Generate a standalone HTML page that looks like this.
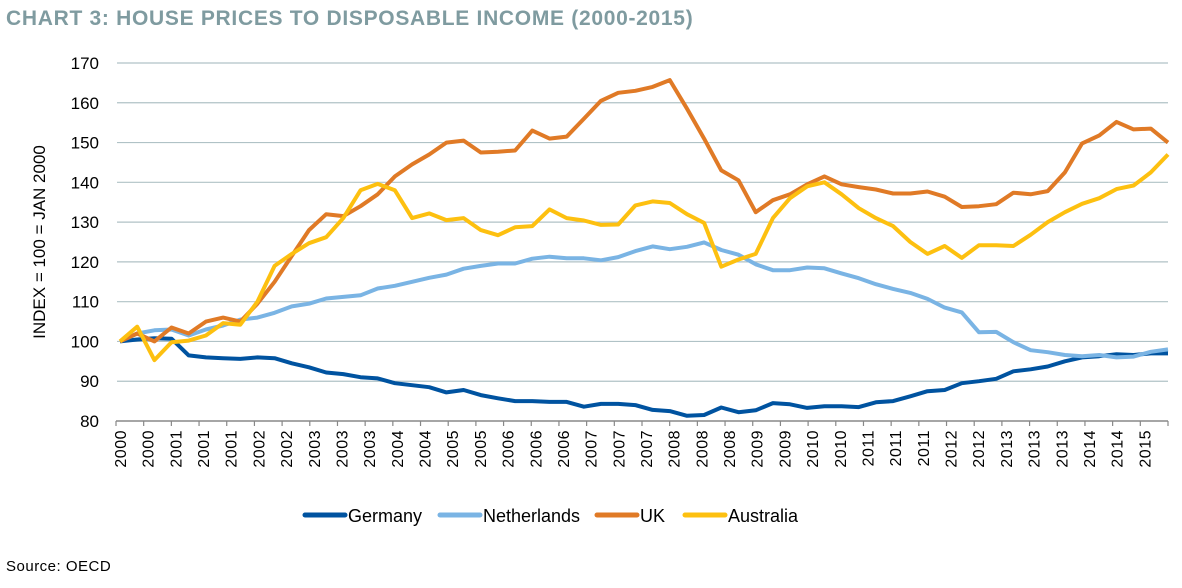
<!DOCTYPE html>
<html><head><meta charset="utf-8">
<style>
html,body{margin:0;padding:0;background:#fff;}
svg{display:block;font-family:"Liberation Sans",sans-serif;}
</style></head>
<body>
<svg id="chart" width="1182" height="588" viewBox="0 0 1182 588">
  <text x="6" y="25" font-size="21" font-weight="bold" fill="#7f9ba0" letter-spacing="0.7">CHART 3: HOUSE PRICES TO DISPOSABLE INCOME (2000-2015)</text>
  <text transform="translate(45,242) rotate(-90)" text-anchor="middle" font-size="17" fill="#000">INDEX = 100 = JAN 2000</text>
  <g id="grid"></g>
  <g id="yticks"></g>
  <g id="xaxis"></g>
  <g id="lines"></g>
  <g id="legend"></g>
  <text x="6" y="571" font-size="15" fill="#000" letter-spacing="0.5">Source: OECD</text>
</svg>
<script>
const yTicks = [80,90,100,110,120,130,140,150,160,170];
const xLabels = ["2000","2000","2001","2001","2001","2002","2002","2003","2003","2003","2004","2004","2005","2005","2006","2006","2006","2007","2007","2007","2008","2008","2008","2009","2009","2010","2010","2011","2011","2011","2012","2012","2013","2013","2013","2014","2014","2015"];
const seriesNames = ["Germany","Netherlands","UK","Australia"];
const germany = [100,100.5,100.8,100.7,96.5,96,95.8,95.6,96,95.8,94.5,93.5,92.2,91.8,91,90.7,89.5,89,88.5,87.2,87.8,86.5,85.7,85,85,84.8,84.8,83.6,84.3,84.3,84,82.8,82.5,81.3,81.5,83.4,82.2,82.7,84.5,84.2,83.3,83.7,83.7,83.5,84.7,85,86.2,87.5,87.8,89.5,90,90.6,92.5,93,93.7,95,96,96.3,96.8,96.6,97,97];
const netherlands = [100,102,102.8,103,101.5,103,104,105.5,106,107.2,108.8,109.5,110.8,111.2,111.6,113.3,114,115,116,116.8,118.3,119,119.6,119.6,120.8,121.3,120.9,120.9,120.4,121.2,122.7,123.9,123.2,123.8,124.9,123,121.8,119.4,117.9,117.9,118.6,118.4,117.1,115.9,114.4,113.2,112.2,110.7,108.5,107.3,102.3,102.4,99.8,97.8,97.3,96.6,96.3,96.6,96,96.2,97.4,98];
const uk = [100,102,100,103.5,102,105,106,105,109.5,115,121.5,128,132,131.5,134,137,141.5,144.5,147,150,150.5,147.5,147.7,148,153,151,151.5,156,160.5,162.5,163,164,165.7,158.5,151,143,140.5,132.5,135.5,137,139.5,141.5,139.5,138.8,138.2,137.2,137.2,137.7,136.4,133.8,134,134.5,137.4,137,137.8,142.5,149.8,151.8,155.2,153.3,153.5,150];
const australia = [100,103.7,95.3,99.8,100.2,101.5,104.6,104.2,110,119,122,124.7,126.2,131,138,139.6,138,131,132.2,130.5,131,128,126.7,128.7,129,133.2,131,130.4,129.3,129.4,134.2,135.2,134.8,132,129.8,118.8,120.6,122,131,136,139,140,137,133.5,131,129,125,122,124,121,124.2,124.2,124,126.8,130,132.5,134.6,136,138.3,139.2,142.5,147];
const colors = ["#0053a0","#7ab4e4","#e07a26","#fdc010"];

const NS = "http://www.w3.org/2000/svg";
const X0 = 120, X1 = 1168, Y0 = 421, Y1 = 63, VMIN = 80, VMAX = 170;
function yScale(v){ return Y0 - (v - VMIN) / (VMAX - VMIN) * (Y0 - Y1); }
function xScale(i, n){ return X0 + i * (X1 - X0) / (n - 1); }
function mk(tag, attrs, parent){ const e = document.createElementNS(NS, tag); for (const k in attrs) e.setAttribute(k, attrs[k]); parent.appendChild(e); return e; }

const grid = document.getElementById('grid');
const yt = document.getElementById('yticks');
yTicks.forEach(v => {
  if (v !== VMIN) {
    const l = mk('line', {x1:117, x2:X1, y1:yScale(v), y2:yScale(v), stroke:'#b0c2c6', 'stroke-width':1.2}, grid);
    
    
  }
  const t = mk('text', {x:99, y:yScale(v)+6, 'text-anchor':'end', 'font-size':17, fill:'#000'}, yt);
  t.textContent = v;
  
  
});

const xa = document.getElementById('xaxis');
const axl = mk('line', {x1:116, x2:X1, y1:Y0, y2:Y0, stroke:'#888', 'stroke-width':1.5}, xa);


const step = (X1 - 116) / xLabels.length;
for (let k = 0; k <= xLabels.length; k++) {
  const tx = 116 + k * step;
  mk('line', {x1:tx, x2:tx, y1:Y0, y2:Y0+5, stroke:'#888', 'stroke-width':1.2}, xa);
}
xLabels.forEach((lab, k) => {
  const tx = 116 + k * step + 4;
  const t = mk('text', {transform:`translate(${tx+6},${Y0+9}) rotate(-90)`, 'text-anchor':'end', 'font-size':16, fill:'#000', 'letter-spacing':'0.5'}, xa);
  t.textContent = lab;
  
  
});

const lg = document.getElementById('lines');
[germany, netherlands, uk, australia].forEach((s, si) => {
  const pts = s.map((v, i) => xScale(i, s.length).toFixed(1) + ',' + yScale(v).toFixed(1)).join(' ');
  const p = mk('polyline', {points:pts, fill:'none', stroke:colors[si], 'stroke-width':4, 'stroke-linejoin':'round'}, lg);
  
  
});

const leg = document.getElementById('legend');
const legX = [305, 440, 597, 685];
seriesNames.forEach((n, si) => {
  const g = mk('g', {}, leg);
  
  
  mk('line', {x1:legX[si], x2:legX[si]+40, y1:515, y2:515, stroke:colors[si], 'stroke-width':5, 'stroke-linecap':'round'}, g);
  const t = mk('text', {x:legX[si]+43, y:522, 'font-size':18, fill:'#000'}, g);
  t.textContent = n;
});
</script>
</body></html>
